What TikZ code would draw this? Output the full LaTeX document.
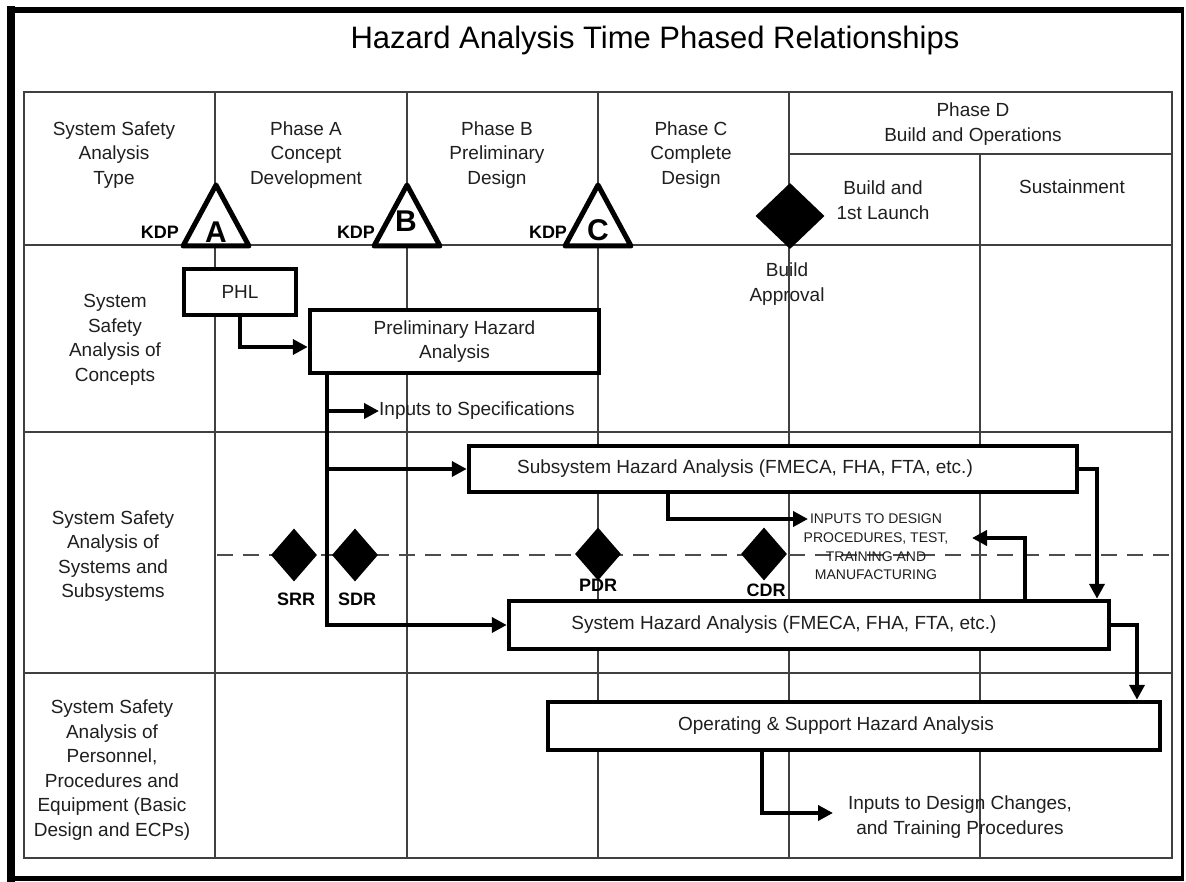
\documentclass[tikz,border=0pt]{standalone}
\usepackage{fontspec}
\setmainfont{Liberation Sans}
\usetikzlibrary{arrows.meta,shapes.geometric}
\begin{document}
\begin{tikzpicture}[x=1pt,y=-1pt,
  grid/.style={draw=black!75, line width=1.3pt},
  box/.style={draw=black, line width=4.5pt, fill=white, inner sep=0pt, align=center,
    font=\fontsize{19}{24.5}\selectfont, text=black!88},
  conn/.style={draw=black, line width=3.8pt, -{Triangle[length=15pt,width=15pt]}},
  lbl/.style={font=\fontsize{19}{24.5}\selectfont, align=center, text=black!88, inner sep=0pt},
  small/.style={font=\fontsize{14}{18.7}\selectfont, align=center, text=black!88, inner sep=0pt},
  bold/.style={font=\fontsize{18}{20}\selectfont\bfseries, text=black, inner sep=0pt},
  letter/.style={font=\fontsize{30}{30}\selectfont\bfseries, text=black, inner sep=0pt},
  dia/.style={diamond, fill=black, inner sep=0pt, minimum width=46pt, minimum height=53pt},
  kdptri/.style={draw=black, line width=5pt, line join=round, fill=white}
]
\useasboundingbox (0,0) rectangle (1186,882);
\fill[white] (0,0) rectangle (1186,882);

% outer frame
\draw[line width=3pt] (11,10) rectangle (1182,878);
\draw[line width=8pt] (11,6) -- (11,882);
\draw[line width=6pt] (7,10) -- (1183.5,10);
\draw[line width=5pt] (7,878) -- (1183.5,878);

% title
\node[font=\fontsize{31}{36}\selectfont, text=black, inner sep=0pt] (title) at (655,40) {Hazard Analysis Time Phased Relationships};

% table grid
\draw[grid] (24,92) rectangle (1172,858);
\draw[grid] (24,245) -- (1172,245);
\draw[grid] (24,432) -- (1172,432);
\draw[grid] (24,673) -- (1172,673);
\draw[grid] (789,154) -- (1172,154);
\foreach \x in {215,407,598,789} \draw[grid] (\x,92) -- (\x,858);
\draw[grid] (980,154) -- (980,858);

% dashed milestone line
\draw[draw=black!70, line width=2.6pt, dash pattern=on 16pt off 10pt] (217,555) -- (1172,555);

% header texts
\node[lbl] (hType) at (114,155) {System Safety\\Analysis\\Type};
\node[lbl] (hA) at (306,155) {Phase A\\Concept\\Development};
\node[lbl] (hB) at (497,155) {Phase B\\Preliminary\\Design};
\node[lbl] (hC) at (691,155) {Phase C\\Complete\\Design};
\node[lbl] (hD) at (973,124) {Phase D\\Build and Operations};
\node[lbl] (hBuild) at (883,200) {Build and\\1st Launch};
\node[lbl] (hSust) at (1072,187) {Sustainment};

% row headers
\node[lbl] (r1) at (115,340) {System\\Safety\\Analysis of\\Concepts};
\node[lbl] (r2) at (113,556) {System Safety\\Analysis of\\Systems and\\Subsystems};
\node[lbl] (r3) at (112,770) {System Safety\\Analysis of\\Personnel,\\Procedures and\\Equipment (Basic\\Design and ECPs)};

% KDP triangles
\foreach \x/\n in {216/A,407/B,598/C} {
  \draw[kdptri] (\x,185) -- (\x+33,246) -- (\x-33,246) -- cycle;
}
\node[letter] (kA) at (216,232) {A};
\node[letter] (kB) at (406,221) {B};
\node[letter] (kC) at (598,230) {C};
\node[bold] (kdpA) at (160,232) {KDP};
\node[bold] (kdpB) at (356,232) {KDP};
\node[bold] (kdpC) at (548,232) {KDP};

% build approval diamond
\node[diamond, fill=black, inner sep=0pt, minimum width=69pt, minimum height=66pt] (bdia) at (790,216) {};
\node[lbl] (bapp) at (787,284) {Build\\Approval};

% review diamonds
\node[dia] (srr) at (294,555) {};
\node[dia] (sdr) at (355,555) {};
\node[dia] (pdr) at (598,554) {};
\node[dia] (cdr) at (764,554) {};
\node[bold] (lsrr) at (296,599) {SRR};
\node[bold] (lsdr) at (357,599) {SDR};
\node[bold] (lpdr) at (598,585) {PDR};
\node[bold] (lcdr) at (766,590) {CDR};

% analysis boxes
\node[box, minimum width=112pt, minimum height=46pt] (phl) at (240,292) {PHL};
\node[box, minimum width=289pt, minimum height=63pt] (pha) at (454.5,341.5) {Preliminary Hazard\\Analysis};
\node[box, minimum width=608pt, minimum height=46pt] (ssha) at (773,469) {};
\node[lbl] (tssha) at (745,469) {Subsystem Hazard Analysis (FMECA, FHA, FTA, etc.)};
\node[box, minimum width=600pt, minimum height=48pt] (sha) at (809,625) {};
\node[lbl] (tsha) at (784,625) {System Hazard Analysis (FMECA, FHA, FTA, etc.)};
\node[box, minimum width=612pt, minimum height=48pt] (osha) at (854,726) {};
\node[lbl] (tosha) at (836,726) {Operating \& Support Hazard Analysis};

% output texts
\node[lbl, anchor=west] (spec) at (379,411) {Inputs to Specifications};
\node[small] (inpd) at (876,547) {INPUTS TO DESIGN\\PROCEDURES, TEST,\\TRAINING AND\\MANUFACTURING};
\node[lbl] (inpc) at (960,817) {Inputs to Design Changes,\\and Training Procedures};

% helper coordinates
\coordinate (trunk) at (327,0);
\coordinate (c1) at (668,0);
\coordinate (t1) at (808,519);
\coordinate (c2) at (1025,0);
\coordinate (t2) at (972,538);
\coordinate (c3) at (1097,0);
\coordinate (c4) at (1137,0);
\coordinate (c5) at (762,0);
\coordinate (t5) at (833,813);

% connectors
\draw[conn] (phl.south) |- ([yshift=-5.5pt]pha.west);
\draw[conn] (pha.south -| trunk) |- (sha.west);
\draw[conn] (spec.west -| trunk) -- (spec.west);
\draw[conn] (ssha.west -| trunk) -- (ssha.west);
\draw[conn] (ssha.south -| c1) |- (t1);
\draw[conn] (sha.north -| c2) |- (t2);
\draw[conn] (ssha.east) -| (sha.north -| c3);
\draw[conn] (sha.east) -| (osha.north -| c4);
\draw[conn] (osha.south -| c5) |- (t5);
\end{tikzpicture}
\end{document}
